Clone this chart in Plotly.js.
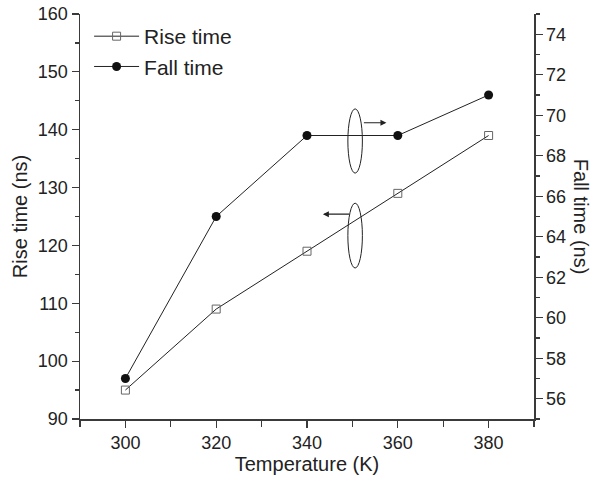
<!DOCTYPE html>
<html>
<head>
<meta charset="utf-8">
<script src="https://cdn.plot.ly/plotly-3.0.1.min.js"></script>
<style>html,body{margin:0;padding:0;background:#fff;}#chart{width:598px;height:482px;}</style>
</head>
<body>
<div id="chart"></div>
<script>
// Data
const temperature = [300, 320, 340, 360, 380];
const riseTime = [95, 109, 119, 129, 139];
const fallTime = [57, 65, 69, 69, 71];

// Decorations (ellipses and arrows marking which axis each curve uses)
const fallEllipse = {x0: 349, x1: 352.2, y0: 132.5, y1: 143.6};
const riseEllipse = {x0: 349, x1: 352.2, y0: 116.1, y1: 127.3};
const fallArrow = {from: [352.2, 141.2], to: [357.5, 141.2]};
const riseArrow = {from: [349.6, 125.4], to: [343.5, 125.4]};

const FONT = 'Liberation Sans, Arial, sans-serif';
const AX = '#3a3a3a';

const traces = [
  {
    x: temperature, y: riseTime, name: 'Rise time', type: 'scatter', mode: 'lines+markers',
    line: {color: '#222', width: 1},
    marker: {symbol: 'square-open', size: 8, color: '#666', line: {width: 1, color: '#666'}},
    xaxis: 'x', yaxis: 'y'
  },
  {
    x: temperature, y: fallTime, name: 'Fall time', type: 'scatter', mode: 'lines+markers',
    line: {color: '#222', width: 1},
    marker: {symbol: 'circle', size: 9, color: '#111'},
    xaxis: 'x', yaxis: 'y2'
  }
];

const layout = {
  width: 598, height: 482,
  margin: {l: 80, r: 64, t: 14, b: 63},
  paper_bgcolor: '#fff', plot_bgcolor: '#fff',
  font: {family: FONT, color: '#222', size: 18},
  showlegend: true,
  legend: {
    x: 0.02, y: 0.995, xanchor: 'left', yanchor: 'top',
    bgcolor: 'rgba(0,0,0,0)', font: {size: 21, family: FONT, color: '#222'},
    itemwidth: 45, tracegroupgap: 0
  },
  xaxis: {
    range: [290, 390], tick0: 300, dtick: 20,
    ticks: 'outside', ticklen: 7, tickwidth: 1.2, tickcolor: AX,
    minor: {dtick: 10, ticks: 'outside', ticklen: 6, tickwidth: 1.2, tickcolor: AX},
    showline: true, linecolor: AX, linewidth: 1.5,
    showgrid: false, zeroline: false,
    tickfont: {size: 18, family: FONT, color: '#222'},
    title: {text: 'Temperature (K)', font: {size: 20, family: FONT, color: '#222'}, standoff: 1}
  },
  xaxis2: {
    overlaying: 'x', side: 'top', anchor: 'y',
    range: [290, 390], tick0: 300, dtick: 20,
    ticks: 'inside', ticklen: 7, tickwidth: 1.2, tickcolor: AX,
    showticklabels: false,
    showline: true, linecolor: AX, linewidth: 1.5,
    showgrid: false, zeroline: false
  },
  yaxis: {
    range: [90, 160], dtick: 10,
    ticks: 'outside', ticklen: 7, tickwidth: 1.2, tickcolor: AX,
    minor: {dtick: 5, ticks: 'outside', ticklen: 4, tickwidth: 1.2, tickcolor: AX},
    showline: true, linecolor: AX, linewidth: 1.5,
    showgrid: false, zeroline: false,
    tickfont: {size: 18, family: FONT, color: '#222'},
    title: {text: 'Rise time (ns)', font: {size: 20, family: FONT, color: '#222'}, standoff: 5}
  },
  yaxis2: {
    overlaying: 'y', side: 'right', anchor: 'x',
    range: [55, 75], tick0: 56, dtick: 2,
    ticks: 'outside', ticklen: 7, tickwidth: 1.2, tickcolor: AX,
    minor: {dtick: 1, ticks: 'outside', ticklen: 4, tickwidth: 1.2, tickcolor: AX},
    showline: true, linecolor: AX, linewidth: 1.5,
    showgrid: false, zeroline: false,
    tickfont: {size: 18, family: FONT, color: '#222'}
  },
  shapes: [fallEllipse, riseEllipse].map(e => ({
    type: 'circle', xref: 'x', yref: 'y',
    x0: e.x0, x1: e.x1, y0: e.y0, y1: e.y1,
    line: {color: '#222', width: 1}
  })),
  annotations: [
    ...[fallArrow, riseArrow].map(a => ({
      xref: 'x', yref: 'y', axref: 'x', ayref: 'y',
      x: a.to[0], y: a.to[1], ax: a.from[0], ay: a.from[1],
      text: '', showarrow: true, arrowhead: 2, arrowsize: 1, arrowwidth: 1.2, arrowcolor: '#222'
    })),
    {
      xref: 'paper', yref: 'paper', x: 1.105, y: 0.5, xanchor: 'center', yanchor: 'middle',
      text: 'Fall time (ns)', textangle: 90, showarrow: false,
      font: {size: 20, family: FONT, color: '#222'}
    }
  ]
};

Plotly.newPlot('chart', traces, layout, {displayModeBar: false, staticPlot: true});
</script>
</body>
</html>
